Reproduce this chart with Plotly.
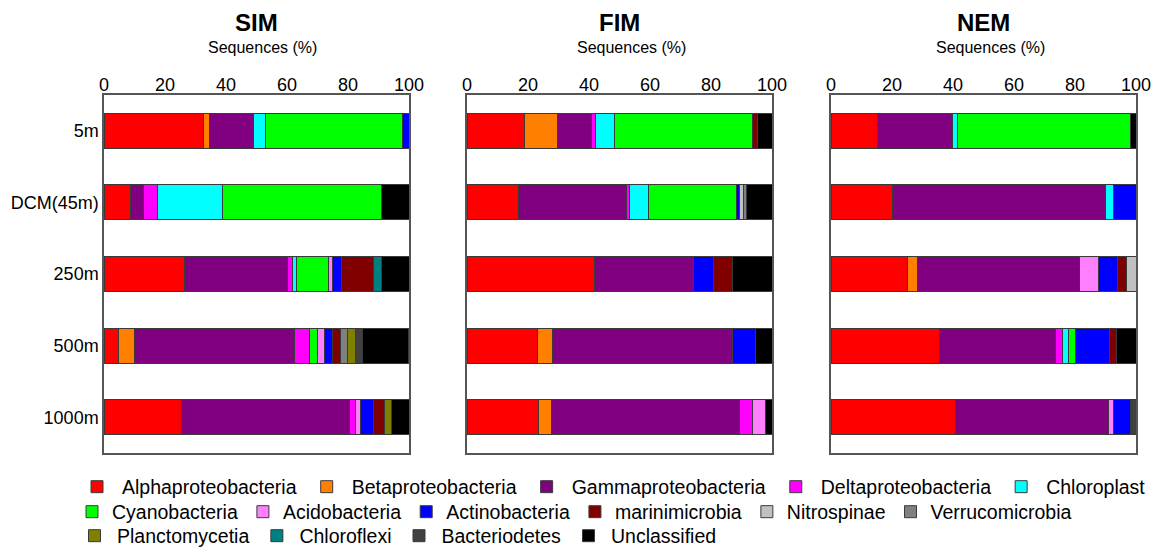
import plotly.graph_objects as go

# ---------------- data ----------------
depths = ["5m", "DCM(45m)", "250m", "500m", "1000m"]
panels = ["SIM", "FIM", "NEM"]
taxa = ["Alphaproteobacteria", "Betaproteobacteria", "Gammaproteobacteria", "Deltaproteobacteria",
        "Chloroplast", "Cyanobacteria", "Acidobacteria", "Actinobacteria", "marinimicrobia",
        "Nitrospinae", "Verrucomicrobia", "Planctomycetia", "Chloroflexi", "Bacteriodetes",
        "Unclassified"]
colors = ["#FF0000", "#FF8000", "#800080", "#FF00FF", "#00FFFF", "#00FF00", "#FF80FF", "#0000FF",
          "#800000", "#C0C0C0", "#808080", "#808000", "#008080", "#404040", "#000000"]

# values (%) per taxon, per depth (5m, DCM, 250m, 500m, 1000m)
SIM = {
    "Alphaproteobacteria": [32.6, 8.6, 26.3, 4.9, 25.4],
    "Betaproteobacteria":  [1.9, 0, 0, 5.0, 0],
    "Gammaproteobacteria": [14.5, 4.5, 33.9, 52.6, 55.2],
    "Deltaproteobacteria": [0, 4.3, 1.5, 5.0, 1.7],
    "Chloroplast":         [3.9, 21.5, 1.4, 0, 0],
    "Cyanobacteria":       [44.9, 52.2, 10.4, 2.4, 0],
    "Acidobacteria":       [0, 0, 1.3, 2.5, 1.9],
    "Actinobacteria":      [2.2, 0, 3.0, 2.5, 4.2],
    "marinimicrobia":      [0, 0, 10.5, 2.5, 3.7],
    "Nitrospinae":         [0, 0, 0, 0, 0],
    "Verrucomicrobia":     [0, 0, 0, 2.4, 0],
    "Planctomycetia":      [0, 0, 0, 2.5, 2.0],
    "Chloroflexi":         [0, 0, 2.7, 0, 0],
    "Bacteriodetes":       [0, 0, 0, 2.5, 0],
    "Unclassified":        [0, 8.9, 9.0, 15.1, 6.0],
}
FIM = {
    "Alphaproteobacteria": [18.8, 17.0, 41.9, 23.1, 23.4],
    "Betaproteobacteria":  [10.8, 0, 0, 5.0, 4.4],
    "Gammaproteobacteria": [11.3, 35.3, 32.4, 59.1, 61.6],
    "Deltaproteobacteria": [1.2, 1.0, 0, 0, 4.3],
    "Chloroplast":         [6.3, 6.3, 0, 0, 0],
    "Cyanobacteria":       [45.3, 28.7, 0, 0, 0],
    "Acidobacteria":       [0, 0, 0, 0, 4.3],
    "Actinobacteria":      [0, 1.0, 6.6, 7.5, 0],
    "marinimicrobia":      [1.5, 0, 6.3, 0, 0],
    "Nitrospinae":         [0, 1.2, 0, 0, 0],
    "Verrucomicrobia":     [0, 1.0, 0, 0, 0],
    "Planctomycetia":      [0, 0, 0, 0, 0],
    "Chloroflexi":         [0, 0, 0, 0, 0],
    "Bacteriodetes":       [0, 0, 0, 0, 0],
    "Unclassified":        [4.8, 8.5, 12.8, 5.3, 2.0],
}
NEM = {
    "Alphaproteobacteria": [15.1, 20.0, 25.1, 35.6, 40.7],
    "Betaproteobacteria":  [0, 0, 3.1, 0, 0],
    "Gammaproteobacteria": [24.6, 70.1, 53.3, 38.0, 50.2],
    "Deltaproteobacteria": [0, 0, 0, 2.2, 0],
    "Chloroplast":         [1.9, 2.4, 0, 2.2, 0],
    "Cyanobacteria":       [56.6, 0, 0, 2.2, 0],
    "Acidobacteria":       [0, 0, 6.1, 0, 1.8],
    "Actinobacteria":      [0, 7.5, 6.3, 11.2, 5.6],
    "marinimicrobia":      [0, 0, 3.1, 2.2, 0],
    "Nitrospinae":         [0, 0, 3.0, 0, 0],
    "Verrucomicrobia":     [0, 0, 0, 0, 0],
    "Planctomycetia":      [0, 0, 0, 0, 0],
    "Chloroflexi":         [0, 0, 0, 0, 0],
    "Bacteriodetes":       [0, 0, 0, 0, 1.7],
    "Unclassified":        [1.8, 0, 0, 6.6, 0],
}
panel_data = [SIM, FIM, NEM]
tick_vals = [0, 20, 40, 60, 80, 100]

# legend rows (indices into taxa)
legend_rows = [[0, 1, 2, 3, 4], [5, 6, 7, 8, 9, 10], [11, 12, 13, 14]]

# ---------------- layout constants ----------------
W, H = 1158, 553
x_dom_px = [(104, 409), (467, 772), (831, 1136)]
y_dom = [1 - 453 / H, 1 - 95 / H]
FONT = "Liberation Sans, Arial, sans-serif"

fig = go.Figure()

row_of = {}
for r, idxs in enumerate(legend_rows):
    for i in idxs:
        row_of[i] = r
legend_names = ["legend", "legend2", "legend3"]

for p, data in enumerate(panel_data):
    ax = "" if p == 0 else str(p + 1)
    for i, t in enumerate(taxa):
        fig.add_trace(go.Bar(
            x=data[t], y=depths, orientation="h", name=t,
            marker=dict(color=colors[i], line=dict(color="#3a3a3a", width=1)),
            xaxis="x" + ax, yaxis="y" + ax,
            legendgroup=t, showlegend=(p == 0),
            legend=legend_names[row_of[i]],
            hovertemplate=f"{panels[p]} %{{y}}<br>{t}: %{{x}}%<extra></extra>",
        ))

layout = dict(
    width=W, height=H, margin=dict(l=0, r=0, t=0, b=0, autoexpand=False),
    paper_bgcolor="white", plot_bgcolor="white",
    barmode="stack", bargap=0.51,
    font=dict(family=FONT, color="black"),
    showlegend=True,
)
for p in range(3):
    ax = "" if p == 0 else str(p + 1)
    x0, x1 = x_dom_px[p]
    layout["xaxis" + ax] = dict(
        domain=[x0 / W, x1 / W], range=[0, 100], side="top", anchor="y" + ax,
        tickvals=tick_vals, ticks="", showgrid=False, zeroline=False,
        showline=True, mirror=True, linecolor="#555555", linewidth=1.5,
        tickfont=dict(size=18, family=FONT), ticklabelstandoff=-5,
    )
    layout["yaxis" + ax] = dict(
        domain=y_dom, anchor="x" + ax, type="category",
        categoryorder="array", categoryarray=depths, autorange="reversed",
        ticks="", showgrid=False, zeroline=False,
        showline=True, mirror=True, linecolor="#555555", linewidth=1.5,
        showticklabels=(p == 0), tickfont=dict(size=18, family=FONT),
        ticklabelstandoff=0,
    )

legend_y_px = [487, 512, 536]
legend_itemwidth = [40, 30, 35]
for r, name in enumerate(legend_names):
    layout[name] = dict(
        orientation="h", xref="container", yref="container",
        x=72 / W, xanchor="left", y=1 - legend_y_px[r] / H, yanchor="middle",
        font=dict(size=19.5, family=FONT), traceorder="normal",
        itemwidth=legend_itemwidth[r], bgcolor="rgba(0,0,0,0)",
    )
fig.update_layout(**layout)

titles_x = [(a + b) / 2 for a, b in x_dom_px]
sub_x = [262, 631, 990]
for p in range(3):
    fig.add_annotation(text="<b>" + panels[p] + "</b>", xref="paper", yref="paper",
                       x=titles_x[p] / W, y=1 - 22 / H, showarrow=False,
                       font=dict(size=24, family=FONT), xanchor="center", yanchor="middle")
    fig.add_annotation(text="Sequences (%)", xref="paper", yref="paper",
                       x=sub_x[p] / W, y=1 - 48 / H, showarrow=False,
                       font=dict(size=16, family=FONT), xanchor="center", yanchor="middle")

fig.write_html("out.html")
